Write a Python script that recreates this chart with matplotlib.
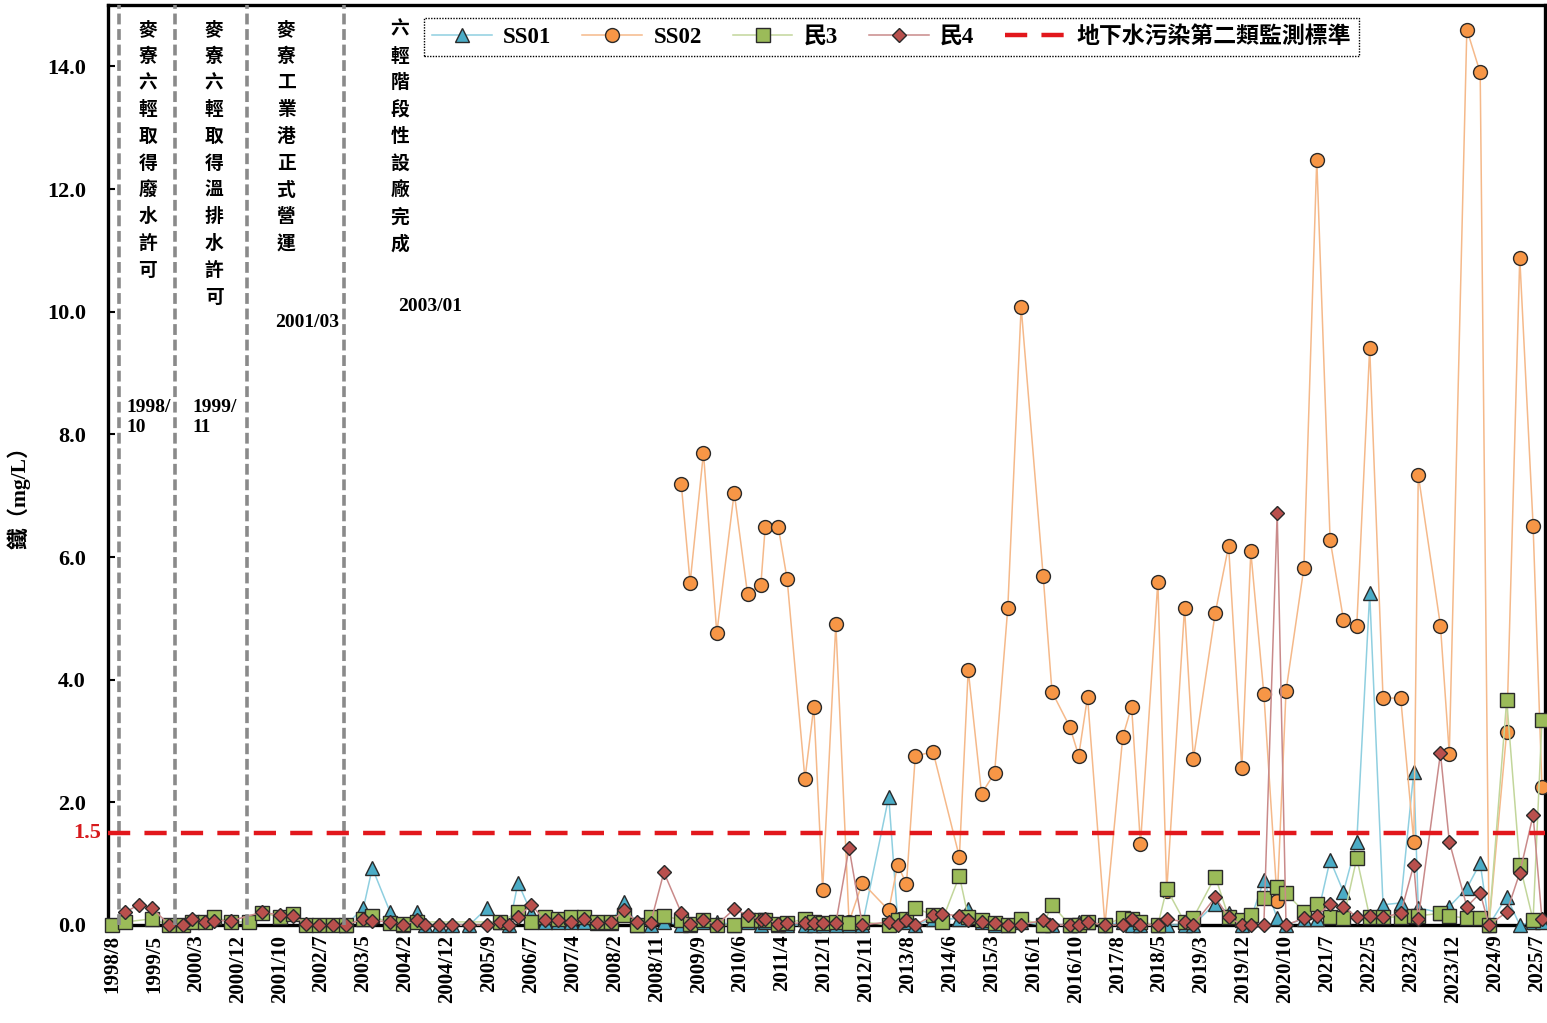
import numpy as np
import matplotlib
matplotlib.use('Agg')
import matplotlib.pyplot as plt
import matplotlib.dates as mdates
import matplotlib.transforms as mtransforms

plt.rcParams['font.family'] = ['Liberation Serif', 'Noto Sans CJK TC']
plt.rcParams['font.weight'] = 'bold'

# sampling months
sample_months = [
    '1998-08', '1998-11', '1999-02', '1999-05', '1999-09', '1999-12', '2000-02', '2000-05', '2000-07', '2000-11',
    '2001-03', '2001-06', '2001-10', '2002-01', '2002-04', '2002-07', '2002-10', '2003-01', '2003-05', '2003-07',
    '2003-11', '2004-02', '2004-05', '2004-07', '2004-10', '2005-01', '2005-05', '2005-09', '2005-12', '2006-02',
    '2006-04', '2006-07', '2006-10', '2007-01', '2007-04', '2007-07', '2007-10', '2008-01', '2008-04', '2008-07',
    '2008-10', '2009-01', '2009-05', '2009-07', '2009-10', '2010-01', '2010-05', '2010-08', '2010-11', '2010-12',
    '2011-03', '2011-05', '2011-09', '2011-11', '2012-01', '2012-04', '2012-07', '2012-10', '2013-04', '2013-06',
    '2013-08', '2013-10', '2014-02', '2014-04', '2014-08', '2014-10', '2015-01', '2015-04', '2015-07', '2015-10',
    '2016-03', '2016-05', '2016-09', '2016-11', '2017-01', '2017-05', '2017-09', '2017-11', '2018-01', '2018-05',
    '2018-07', '2018-11', '2019-01', '2019-06', '2019-09', '2019-12', '2020-02', '2020-05', '2020-08', '2020-10',
    '2021-02', '2021-05', '2021-08', '2021-11', '2022-02', '2022-05', '2022-08', '2022-12', '2023-03', '2023-04',
    '2023-09', '2023-11', '2024-03', '2024-06', '2024-08', '2024-12', '2025-03', '2025-06', '2025-08']

ss01 = [None] * 10 + [
    None, None, None, None, None, None, None, 0.0, 0.28, 0.93,
    0.21, 0.0, 0.21, 0.0, 0.0, 0.0, 0.0, 0.28, 0.05, 0.0,
    0.69, 0.2, 0.05, 0.05, 0.05, 0.05, 0.03, 0.03, 0.37, 0.0,
    0.0, 0.05, 0.0, 0.0, 0.05, 0.05, 0.0, 0.05, 0.0, 0.05,
    0.0, 0.0, 0.0, 0.0, 0.0, 0.0, 0.0, 0.0, 2.09, 0.1,
    0.05, 0.0, 0.1, 0.1, 0.1, 0.26, 0.05, 0.0, 0.0, 0.05,
    0.0, 0.0, 0.0, 0.05, 0.05, 0.0, 0.05, 0.0, 0.0, 0.0,
    0.0, 0.0, 0.0, 0.35, 0.2, 0.0, 0.1, 0.73, 0.11, 0.0,
    0.1, 0.1, 1.06, 0.54, 1.36, 5.41, 0.33, 0.36, 2.5, 0.28,
    0.2, 0.3, 0.6, 1.01, 0.0, 0.46, 0.0, 0.05, 0.05]

ss02 = [None] * 40 + [
    None, None, 7.19, 5.58, 7.7, 4.76, 7.05, 5.4, 5.55, 6.49,
    6.49, 5.64, 2.38, 3.56, 0.57, 4.91, 0.05, 0.69, 0.24, 0.98,
    0.67, 2.76, 2.82, None, 1.11, 4.16, 2.14, 2.48, 5.17, 10.08,
    5.69, 3.8, 3.23, 2.76, 3.72, 0.0, 3.07, 3.56, 1.32, 5.6,
    0.55, 5.17, 2.71, 5.09, 6.18, 2.56, 6.09, 3.77, 0.39, 3.82,
    5.82, 12.48, 6.28, 4.98, 4.88, 9.41, 3.7, 3.7, 1.36, 7.34,
    4.88, 2.79, 14.6, 13.9, 0.0, 3.15, 10.88, 6.51, 2.25]

min3 = [
    0.0, 0.05, None, 0.1, 0.0, 0.0, 0.05, 0.05, 0.13, 0.05,
    0.05, 0.2, 0.13, 0.18, 0.0, 0.0, 0.0, 0.0, 0.1, 0.15,
    0.03, 0.02, 0.05, None, None, None, None, None, 0.05, None,
    0.21, 0.05, 0.13, 0.1, 0.13, 0.13, 0.05, 0.05, 0.16, 0.0,
    0.13, 0.15, 0.08, 0.02, 0.08, 0.0, 0.0, 0.08, 0.08, 0.08,
    0.02, 0.03, 0.1, 0.05, 0.03, 0.05, 0.03, 0.05, 0.0, 0.08,
    0.1, 0.28, 0.16, 0.05, 0.8, 0.13, 0.08, 0.03, 0.0, 0.1,
    0.0, 0.33, 0.0, 0.0, 0.05, 0.0, 0.12, 0.1, 0.05, 0.0,
    0.59, 0.05, 0.12, 0.79, 0.13, 0.08, 0.16, 0.44, 0.62, 0.52,
    0.22, 0.34, 0.13, 0.11, 1.09, 0.13, 0.13, 0.13, 0.15, 0.15,
    0.19, 0.15, 0.11, 0.11, 0.0, 3.67, 0.98, 0.08, 3.34]

min4 = [
    None, 0.21, 0.33, 0.28, 0.0, 0.0, 0.1, 0.05, 0.07, 0.07,
    None, 0.21, 0.16, 0.15, 0.02, 0.0, 0.0, 0.0, 0.1, 0.07,
    0.05, 0.0, 0.08, 0.0, 0.0, 0.0, 0.0, 0.0, 0.05, 0.0,
    0.13, 0.33, 0.08, 0.08, 0.05, 0.1, 0.03, 0.05, 0.24, 0.05,
    0.03, 0.86, 0.2, 0.02, 0.08, 0.0, 0.26, 0.16, 0.08, 0.1,
    0.02, 0.03, 0.03, 0.03, 0.03, 0.03, 1.26, 0.0, 0.05, 0.0,
    0.08, 0.0, 0.16, 0.18, 0.15, 0.08, 0.05, 0.03, 0.0, 0.0,
    0.08, 0.0, 0.0, 0.0, 0.05, 0.0, 0.0, 0.1, 0.0, 0.0,
    0.1, 0.05, 0.0, 0.45, 0.13, 0.0, 0.0, 0.0, 6.72, 0.0,
    0.11, 0.15, 0.34, 0.3, 0.13, 0.14, 0.13, 0.19, 0.98, 0.1,
    2.8, 1.36, 0.3, 0.52, 0.0, 0.21, 0.85, 1.79, 0.1]

standard = 1.5

tick_labels = ['1998/8', '1999/5', '2000/3', '2000/12', '2001/10', '2002/7', '2003/5', '2004/2',
               '2004/12', '2005/9', '2006/7', '2007/4', '2008/2', '2008/11', '2009/9', '2010/6',
               '2011/4', '2012/1', '2012/11', '2013/8', '2014/6', '2015/3', '2016/1', '2016/10',
               '2017/8', '2018/5', '2019/3', '2019/12', '2020/10', '2021/7', '2022/5', '2023/2',
               '2023/12', '2024/9', '2025/7']

event_dates = ['1998-10-01', '1999-10-20', '2001-03-01', '2003-01-01']
event_texts = ['麥寮六輕取得廢水許可', '麥寮六輕取得溫排水許可', '麥寮工業港正式營運', '六輕階段性設廠完成']
event_labels = ['1998/\n10', '1999/\n11', '2001/03', '2003/01']

# dates -> matplotlib numbers
x = mdates.date2num(np.array(sample_months, dtype='datetime64[M]') + np.timedelta64(14, 'D'))
tick_pos = np.datetime64('1998-08-15') + np.arange(len(tick_labels)) * np.timedelta64(289, 'D')
tick_x = mdates.date2num(tick_pos)

fig = plt.figure(figsize=(15.47, 10.23), dpi=100)
ax = fig.add_axes([0.0698, 0.0958, 0.9289, 0.8993])

series = [
    (ss01, 'SS01', '^', '#4BACC6', '#8FCFE0', 10),
    (ss02, 'SS02', 'o', '#F79646', '#F5B98A', 10),
    (min3, '民3', 's', '#9BBB59', '#C2D69B', 10),
    (min4, '民4', 'D', '#B9504D', '#C98A8A', 7.5),
]
for vals, name, mk, face, line, ms in series:
    v = np.array(vals, dtype=float)
    ok = ~np.isnan(v)
    ax.plot(x[ok], v[ok], color=line, lw=1.1, marker=mk, ms=ms, mfc=face,
            mec='#2a2a2a', mew=1.0, label=name, clip_on=False, zorder=3)

ax.axhline(standard, color='#E2171C', lw=3.2, dashes=(5.0, 3.2), zorder=5,
           label='地下水污染第二類監測標準')

for d in event_dates:
    ax.axvline(mdates.date2num(np.datetime64(d)), color='#8a8a8a', lw=2.6,
               dashes=(3.0, 1.3), zorder=4)

ax.set_xlim(mdates.date2num(np.datetime64('1998-07-18')),
            mdates.date2num(np.datetime64('2025-09-05')))
ax.set_ylim(0, 15)

ax.set_yticks(np.arange(0, 15, 2))
ax.set_yticklabels(['%.1f' % t for t in np.arange(0, 15, 2)])
ax.tick_params(axis='y', direction='in', length=5, width=1.5, labelsize=16, pad=16)
ax.set_xticks(tick_x)
ax.set_xticklabels(tick_labels, rotation=90)
ax.tick_params(axis='x', length=0, labelsize=15, pad=7)

for s in ax.spines.values():
    s.set_linewidth(2.4)
    s.set_color('black')

trans = mtransforms.blended_transform_factory(ax.transAxes, ax.transData)
ax.text(-0.005, standard, '1.5', transform=trans, ha='right', va='center',
        color='#D7191C', fontsize=16, weight='bold')

ax.set_ylabel('鐵（mg/L）', fontsize=15.5, weight='bold')
ax.yaxis.set_label_coords(-0.054, 0.47)

# event annotations (vertical text)
col_x = [0.0278, 0.0738, 0.1239, 0.2032]
for xf, txt in zip(col_x, event_texts):
    ax.text(xf, 0.984, '\n'.join(txt), transform=ax.transAxes, ha='center', va='top',
            fontsize=13.5, family=['Noto Sans CJK TC'], weight='bold', linespacing=1.52)

lab_pos = [(0.0125, 0.552, 'left'), (0.0585, 0.552, 'left'), (0.1385, 0.655, 'center'), (0.224, 0.672, 'center')]
for (xf, yf, ha), txt in zip(lab_pos, event_labels):
    ax.text(xf, yf, txt, transform=ax.transAxes, ha=ha, va='center', fontsize=14,
            weight='bold', linespacing=1.25)

leg = ax.legend(loc='upper left', bbox_to_anchor=(0.22, 0.986), ncol=5, fontsize=16.5,
                frameon=True, fancybox=False, edgecolor='black', framealpha=1,
                handlelength=2.6, handletextpad=0.5, columnspacing=1.35,
                borderpad=0.35, borderaxespad=0)
leg.get_frame().set_linestyle((0, (1, 1)))
leg.get_frame().set_linewidth(1.0)

fig.savefig('out.png', dpi=100)
